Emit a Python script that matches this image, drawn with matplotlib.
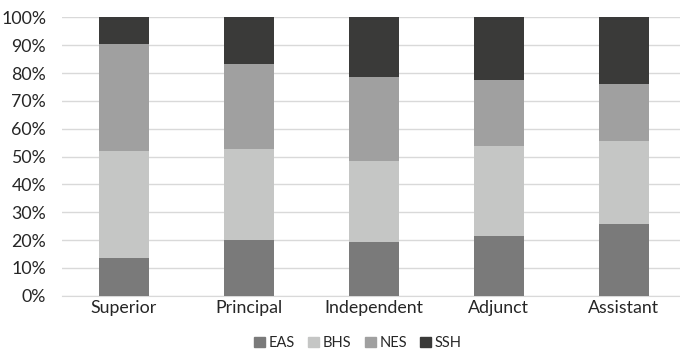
import matplotlib
matplotlib.use("Agg")
import matplotlib.pyplot as plt
import numpy as np
from matplotlib.ticker import PercentFormatter
from matplotlib.patches import Patch

categories = ["Superior", "Principal", "Independent", "Adjunct", "Assistant"]
EAS = [13.6, 20.1, 19.2, 21.5, 25.7]
BHS = [38.5, 32.6, 29.2, 32.4, 29.8]
NES = [38.3, 30.4, 30.1, 23.7, 20.6]
SSH = [9.6, 16.9, 21.5, 22.4, 23.9]
series = {"EAS": EAS, "BHS": BHS, "NES": NES, "SSH": SSH}
colors = {"EAS": "#7a7a7a", "BHS": "#c5c6c5", "NES": "#a0a0a0", "SSH": "#3a3a39"}

plt.rcParams['font.family'] = ['Lato', 'DejaVu Sans']
fig = plt.figure(figsize=(6.8, 3.52), dpi=100)
ax = fig.add_axes([61.5/680, 56.3/352, (680-61.5)/680, 278.3/352])

x = np.arange(len(categories))
bottom = np.zeros(len(categories))
for name, vals in series.items():
    ax.bar(x, vals, 0.4, bottom=bottom, color=colors[name], label=name, zorder=3)
    bottom += np.array(vals)

ax.set_xlim(-0.5, 4.45)
ax.set_ylim(0, 100)
ax.set_yticks(np.arange(0, 101, 10))
ax.yaxis.set_major_formatter(PercentFormatter(decimals=0))
ax.set_xticks(x)
ax.set_xticklabels(categories)
ax.grid(axis='y', color='#d9d9d9', linewidth=1, zorder=0)
for s in ['top', 'right', 'left']:
    ax.spines[s].set_visible(False)
ax.spines['bottom'].set_color('#d9d9d9')
ax.tick_params(axis='both', length=0, labelsize=12.8, colors='#262626')
ax.tick_params(axis='y', pad=11)
ax.tick_params(axis='x', pad=3)

handles = [Patch(color=colors[n], label=n) for n in series]
fig.legend(handles=handles, loc='center', bbox_to_anchor=(358/680, 1 - 343/352),
           ncol=4, frameon=False, fontsize=10.5, handlelength=0.75, handleheight=0.75,
           handletextpad=0.25, columnspacing=0.9, labelcolor='#262626')

fig.savefig("out.png", dpi=100)
